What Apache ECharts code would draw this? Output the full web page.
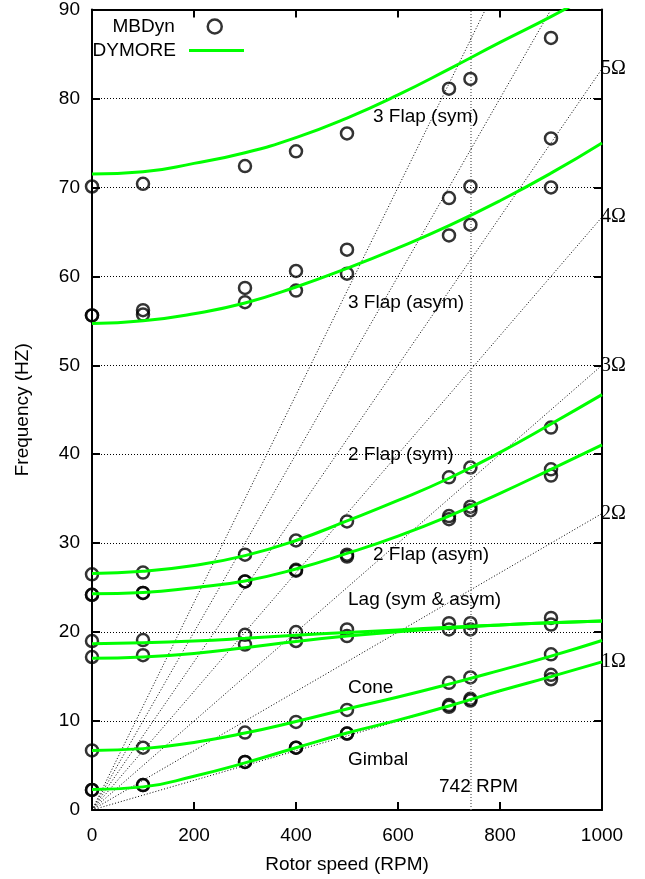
<!DOCTYPE html>
<html>
<head>
<meta charset="utf-8">
<script src="https://cdn.jsdelivr.net/npm/echarts@6/dist/echarts.min.js"></script>
<style>html,body{margin:0;padding:0;background:#fff;}#chart{width:645px;height:879px;}</style>
</head>
<body>
<div id="chart"></div>
<script>
// ---- Data ----
const rpmMB = [0, 100, 300, 400, 500, 700, 742, 900];
const mbGimbalA   = [2.25, 2.8, 5.4, 7.0, 8.6, 11.8, 12.5, 15.2];
const mbGimbalB   = [2.25, 2.8, 5.4, 7.0, 8.6, 11.6, 12.3, 14.7];
const mbCone      = [6.7, 7.0, 8.7, 9.9, 11.25, 14.3, 14.9, 17.5];
const mbLagA      = [19.0, 19.1, 19.7, 20.0, 20.3, 21.0, 21.0, 21.6];
const mbLagB      = [17.2, 17.4, 18.6, 19.0, 19.55, 20.3, 20.3, 20.85];
const mb2FlapAsymA = [24.2, 24.4, 25.7, 27.0, 28.7, 33.05, 34.1, 38.3];
const mb2FlapAsymB = [24.2, 24.4, 25.7, 26.9, 28.5, 32.7, 33.7, 37.6];
const mb2FlapSym  = [26.5, 26.7, 28.7, 30.3, 32.45, 37.4, 38.5, 43.0];
const mb3FlapAsymA = [55.6, 55.7, 57.1, 58.4, 60.3, 64.6, 65.8, 70.0];
const mb3FlapAsymB = [55.6, 56.2, 58.7, 60.6, 63.0, 68.8, 70.1, 75.5];
const mb3FlapSym  = [70.1, 70.4, 72.4, 74.05, 76.06, 81.1, 82.2, 86.8];

const rpmCurve = [0, 100, 200, 300, 400, 500, 600, 700, 800, 900, 1000];
const dyGimbal    = [2.3, 2.6, 3.8, 5.3, 7.0, 8.65, 10.1, 11.7, 13.4, 15.0, 16.65];
const dyCone      = [6.7, 6.9, 7.6, 8.65, 9.95, 11.36, 12.7, 14.15, 15.7, 17.3, 19.06];
const dyLagLow    = [17.05, 17.2, 17.6, 18.25, 18.95, 19.55, 20.05, 20.45, 20.8, 21.05, 21.25];
const dyLagHigh   = [18.7, 18.8, 19.0, 19.3, 19.65, 19.95, 20.25, 20.55, 20.8, 21.05, 21.25];
const dy2FlapAsym = [24.3, 24.45, 25.0, 25.75, 27.1, 28.85, 30.8, 33.05, 35.6, 38.3, 41.05];
const dy2FlapSym  = [26.6, 26.85, 27.5, 28.6, 30.3, 32.5, 34.8, 37.3, 40.2, 43.4, 46.7];
const dy3FlapAsym = [54.7, 55.0, 55.8, 57.0, 58.8, 60.9, 63.2, 65.7, 68.5, 71.6, 75.0];
const dy3FlapSym  = [71.5, 71.75, 72.7, 73.9, 75.6, 77.8, 80.4, 83.3, 86.3, 89.2, 92.3];

const harmonics = [1, 2, 3, 4, 5, 6, 7];
const labeledHarmonicMax = 5;
const rpmRange = [0, 1000];
const ratedRpm = 742;

const xTicks = { min: 0, max: 1000, interval: 200 };
const yTicks = { min: 0, max: 90, interval: 10 };

const modeLabels = [
  { text: '3 Flap (sym)',      left: 373, top: 107 },
  { text: '3 Flap (asym)',     left: 348, top: 293 },
  { text: '2 Flap (sym)',      left: 348, top: 445 },
  { text: '2 Flap (asym)',     left: 373, top: 545 },
  { text: 'Lag (sym & asym)',  left: 348, top: 590 },
  { text: 'Cone',              left: 348, top: 678 },
  { text: 'Gimbal',            left: 348, top: 750 },
  { text: ratedRpm + ' RPM',   left: 439, top: 777 }
];

// ---- Build ----
const FONT = 'Liberation Sans, Arial, sans-serif';
const GREEN = '#00ff00';

const mbModes = [mbGimbalA, mbGimbalB, mbCone, mbLagA, mbLagB, mb2FlapAsymA, mb2FlapAsymB, mb2FlapSym, mb3FlapAsymA, mb3FlapAsymB, mb3FlapSym];
const mbData = [];
mbModes.forEach(arr => arr.forEach((v, i) => mbData.push([rpmMB[i], v])));

const dyModes = [dyGimbal, dyCone, dyLagLow, dyLagHigh, dy2FlapAsym, dy2FlapSym, dy3FlapAsym, dy3FlapSym];

const series = [];
harmonics.forEach(n => {
  series.push({
    type: 'line', name: n + 'Ω', silent: true, z: 1,
    data: rpmRange.map(r => [r, n * r / 60]),
    showSymbol: false, symbol: 'none', clip: true,
    lineStyle: { color: '#000', width: 1, type: [1, 2] },
    endLabel: {
      show: n <= labeledHarmonicMax, formatter: n + 'Ω', distance: -1,
      fontFamily: 'Liberation Serif, Times New Roman, serif', fontSize: 20, color: '#000'
    },
    markLine: n === 1 ? {
      silent: true, symbol: 'none', label: { show: false },
      lineStyle: { color: '#777', width: 1.5, type: [1, 2] },
      data: [{ xAxis: ratedRpm }]
    } : undefined
  });
});
series.push({
  type: 'scatter', name: 'MBDyn', z: 3,
  data: mbData, symbol: 'circle', symbolSize: 12,
  itemStyle: { color: 'rgba(0,0,0,0)', borderColor: '#000', borderWidth: 2.5 }
});
dyModes.forEach(arr => {
  series.push({
    type: 'line', name: 'DYMORE', z: 5, smooth: true, clip: true,
    showSymbol: false, symbol: 'none',
    data: arr.map((v, i) => [rpmCurve[i], v]),
    lineStyle: { color: GREEN, width: 3 },
    itemStyle: { color: GREEN }
  });
});

const axisCommon = {
  axisLine: { show: true, onZero: false, lineStyle: { color: '#000', width: 2 } },
  axisTick: { show: true, inside: true, length: 8, lineStyle: { color: '#000', width: 2 } },
  splitLine: { show: false }
};

const option = {
  backgroundColor: '#fff',
  animation: false,
  textStyle: { fontFamily: FONT },
  grid: { left: 92, right: 43, top: 7, bottom: 66, containLabel: false },
  legend: [
    {
      data: ['MBDyn'], orient: 'vertical', align: 'right', right: 417, top: 12,
      itemWidth: 14, itemHeight: 14, selectedMode: false,
      itemStyle: { color: 'rgba(0,0,0,0)', borderColor: '#000', borderWidth: 2.5 },
      textStyle: { fontSize: 19, color: '#000', fontFamily: FONT, padding: [0, 28, 0, 0] }
    },
    {
      data: [{ name: 'DYMORE', icon: 'rect' }], orient: 'vertical', align: 'right', right: 396, top: 36,
      itemWidth: 55, itemHeight: 3, selectedMode: false,
      itemStyle: { color: GREEN },
      textStyle: { fontSize: 19, color: '#000', fontFamily: FONT, padding: [0, 8, 0, 0] }
    }
  ],
  xAxis: [
    Object.assign({}, axisCommon, {
      type: 'value', position: 'bottom', min: xTicks.min, max: xTicks.max, interval: xTicks.interval,
      name: 'Rotor speed (RPM)', nameLocation: 'middle', nameGap: 45,
      nameTextStyle: { fontSize: 19, color: '#000', fontFamily: FONT },
      axisLabel: { fontSize: 19, color: '#000', margin: 16, fontFamily: FONT, formatter: v => String(v) }
    }),
    Object.assign({}, axisCommon, {
      type: 'value', position: 'top', min: xTicks.min, max: xTicks.max, interval: xTicks.interval,
      axisLabel: { show: false }
    })
  ],
  yAxis: [
    Object.assign({}, axisCommon, {
      type: 'value', position: 'left', min: yTicks.min, max: yTicks.max, interval: yTicks.interval,
      name: 'Frequency (HZ)', nameLocation: 'middle', nameGap: 60, nameRotate: 90,
      nameTextStyle: { fontSize: 19, color: '#000', fontFamily: FONT },
      axisLabel: { fontSize: 19, color: '#000', margin: 12, fontFamily: FONT },
      splitLine: { show: true, lineStyle: { color: '#000', width: 1, type: [1, 2] } }
    }),
    Object.assign({}, axisCommon, {
      type: 'value', position: 'right', min: yTicks.min, max: yTicks.max, interval: yTicks.interval,
      axisLabel: { show: false }
    })
  ],
  graphic: modeLabels.map(l => ({
    type: 'text', left: l.left, top: l.top, z: 10, silent: true,
    style: { text: l.text, fontSize: 19, fontFamily: FONT, fill: '#000' }
  })),
  series: series
};

const chart = echarts.init(document.getElementById('chart'), null, { renderer: 'canvas' });
chart.setOption(option);
</script>
</body>
</html>
